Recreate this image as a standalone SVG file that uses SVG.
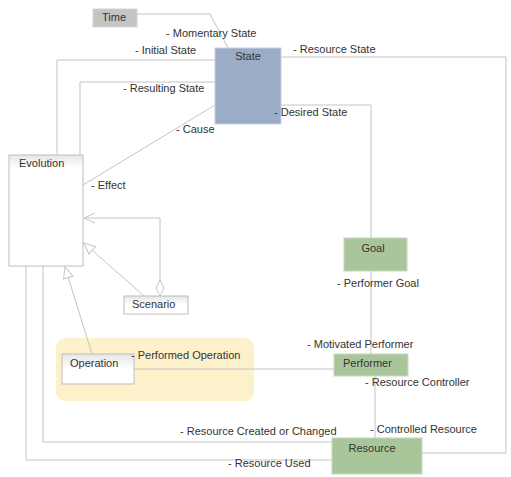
<svg xmlns="http://www.w3.org/2000/svg" width="511" height="477" viewBox="0 0 511 477">
<style>
text{font-family:"Liberation Sans",Arial,sans-serif;font-size:11px;fill:#333}
.ln{fill:none;stroke:#c4c4c4;stroke-width:1}
.wb{fill:url(#wg);stroke:#bdbdbd}
.gb{fill:#a9c69b;stroke:#c8d8c0}
</style>
<defs>
<linearGradient id="wg" x1="0" y1="0" x2="0" y2="1">
<stop offset="0" stop-color="#e6e6e6"/><stop offset="0.12" stop-color="#ffffff"/><stop offset="1" stop-color="#ffffff"/>
</linearGradient>
<linearGradient id="wg2" x1="0" y1="0" x2="0" y2="1">
<stop offset="0" stop-color="#e6e6e6"/><stop offset="0.5" stop-color="#ffffff"/><stop offset="1" stop-color="#ffffff"/>
</linearGradient>
<marker id="tri" markerWidth="14" markerHeight="12" refX="12" refY="6" orient="auto" markerUnits="userSpaceOnUse">
<path d="M1,1 L12,6 L1,11 Z" fill="#fff" stroke="#c4c4c4"/>
</marker>
<marker id="vee" markerWidth="14" markerHeight="12" refX="12" refY="6" orient="auto" markerUnits="userSpaceOnUse">
<path d="M1,1 L12,6 L1,11" fill="none" stroke="#c4c4c4"/>
</marker>
<marker id="dia" markerWidth="20" markerHeight="10" refX="1" refY="5" orient="auto" markerUnits="userSpaceOnUse">
<path d="M1,5 L9,1 L17,5 L9,9 Z" fill="#fff" stroke="#c4c4c4"/>
</marker>
</defs>
<rect x="56" y="338" width="198" height="63" rx="9" fill="#fdf1cc"/>
<g id="connectors">
<polyline class="ln" points="137,14 210,14 228,48"/>
<polyline class="ln" points="215,60 57,60 57,155"/>
<polyline class="ln" points="215,82 80,82 80,155"/>
<line class="ln" x1="215" y1="105" x2="83" y2="185"/>
<polyline class="ln" points="281,57 506,57 506,453 422,453"/>
<polyline class="ln" points="281,105 371,105 371,238"/>
<line class="ln" x1="371" y1="271" x2="371" y2="354"/>
<line class="ln" x1="134" y1="369" x2="334" y2="369"/>
<line class="ln" x1="375" y1="376" x2="375" y2="438"/>
<polyline class="ln" points="43,266 43,442 332,442"/>
<polyline class="ln" points="26,266 26,460 332,460"/>
<line class="ln" x1="144" y1="296" x2="84" y2="243" marker-end="url(#tri)"/>
<line class="ln" x1="92" y1="354" x2="65" y2="267" marker-end="url(#tri)"/>
<polyline class="ln" points="160,296 160,218 84,218" marker-start="url(#dia)" marker-end="url(#vee)"/>
</g>
<g id="time"><rect x="93" y="9" width="44" height="18" fill="#c4c4c4" stroke="#d4d4d4"/><text x="102" y="21">Time</text></g>
<g id="state"><rect x="215" y="48" width="66" height="76" fill="#9badc6" stroke="#c9d1de"/><text x="248" y="60" text-anchor="middle">State</text></g>
<g id="evolution"><rect x="9" y="155" width="74" height="111" class="wb"/><text x="19" y="167">Evolution</text></g>
<g id="scenario"><rect x="124" y="296" width="64" height="18" fill="url(#wg2)" stroke="#bdbdbd"/><text x="132" y="308">Scenario</text></g>
<g id="operation"><rect x="62" y="354" width="72" height="30" fill="url(#wg2)" stroke="#bdbdbd"/><text x="70" y="367">Operation</text></g>
<g id="goal"><rect x="344" y="238" width="63" height="33" class="gb"/><text x="373" y="252" text-anchor="middle">Goal</text></g>
<g id="performer"><rect x="334" y="354" width="74" height="22" class="gb"/><text x="343" y="367">Performer</text></g>
<g id="resource"><rect x="332" y="438" width="90" height="36" class="gb"/><text x="372" y="452" text-anchor="middle">Resource</text></g>
<g id="labels">
<text x="166" y="37">- Momentary State</text>
<text x="135" y="54">- Initial State</text>
<text x="123" y="92">- Resulting State</text>
<text x="176" y="133">- Cause</text>
<text x="91" y="189">- Effect</text>
<text x="293" y="53">- Resource State</text>
<text x="274" y="116">- Desired State</text>
<text x="337" y="287">- Performer Goal</text>
<text x="307" y="348">- Motivated Performer</text>
<text x="365" y="386">- Resource Controller</text>
<text x="370" y="433">- Controlled Resource</text>
<text x="180" y="435">- Resource Created or Changed</text>
<text x="228" y="467">- Resource Used</text>
<text x="131" y="359">- Performed Operation</text>
</g>
</svg>
